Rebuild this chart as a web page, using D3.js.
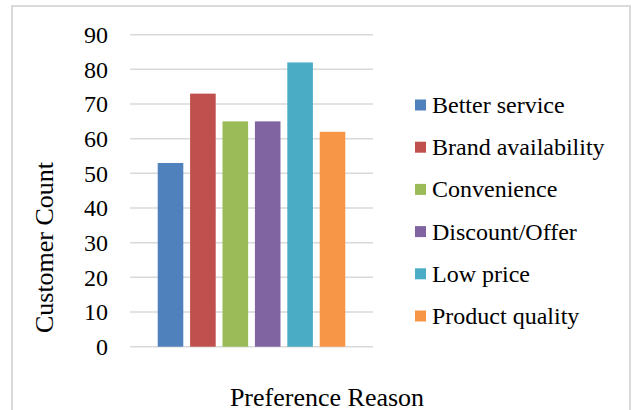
<!DOCTYPE html>
<html>
<head>
<meta charset="utf-8">
<script src="https://cdn.jsdelivr.net/npm/d3@7"></script>
<style>
  html, body { margin: 0; padding: 0; background: #fff; }
  svg { display: block; }
  text { font-family: "Liberation Serif", "Times New Roman", serif; fill: #000; }
</style>
</head>
<body>
<svg id="chart" width="633" height="410"></svg>
<script>
// Preference reasons and customer counts
const reasons = ["Better service", "Brand availability", "Convenience", "Discount/Offer", "Low price", "Product quality"];
const counts = [53, 73, 65, 65, 82, 62];
const colors = ["#4F81BD", "#C0504D", "#9BBB59", "#8064A2", "#4BACC6", "#F79646"];
const yTicks = [0, 10, 20, 30, 40, 50, 60, 70, 80, 90];

const svg = d3.select("#chart");

// Chart frame
svg.append("rect")
  .attr("x", 12).attr("y", 6)
  .attr("width", 618).attr("height", 420)
  .attr("fill", "#fff")
  .attr("stroke", "#d9d9d9")
  .attr("stroke-width", 2);

const plot = { left: 130, right: 373, top: 34.7, bottom: 346.7 };

const y = d3.scaleLinear().domain([0, 90]).range([plot.bottom, plot.top]);
const x = d3.scaleBand().domain(reasons)
  .range([plot.left, plot.right])
  .paddingInner(0.21)
  .paddingOuter(0.855);

// Gridlines
svg.append("g")
  .selectAll("line")
  .data(yTicks)
  .join("line")
  .attr("x1", plot.left).attr("x2", plot.right)
  .attr("y1", d => y(d)).attr("y2", d => y(d))
  .attr("stroke", "#d9d9d9")
  .attr("stroke-width", 1.5);

// Y axis labels
const yAxis = d3.axisLeft(y).tickValues(yTicks).tickSize(0).tickPadding(0);
const yg = svg.append("g")
  .attr("transform", "translate(108,0)")
  .call(yAxis);
yg.select(".domain").remove();
yg.selectAll("text")
  .attr("font-size", 24)
  .attr("font-family", "'Liberation Serif', 'Times New Roman', serif")
  .attr("fill", "#000")
  .attr("dy", "0.33em");

// Bars
svg.append("g")
  .selectAll("rect")
  .data(reasons)
  .join("rect")
  .attr("x", d => x(d))
  .attr("width", x.bandwidth())
  .attr("y", (d, i) => y(counts[i]))
  .attr("height", (d, i) => y(0) - y(counts[i]))
  .attr("fill", (d, i) => colors[i]);

// Axis titles
svg.append("text")
  .attr("transform", "translate(53,247.5) rotate(-90)")
  .attr("text-anchor", "middle")
  .attr("font-size", 26)
  .text("Customer Count");

svg.append("text")
  .attr("x", 327)
  .attr("y", 406)
  .attr("text-anchor", "middle")
  .attr("font-size", 26)
  .text("Preference Reason");

// Legend
const legend = svg.append("g")
  .selectAll("g")
  .data(reasons)
  .join("g")
  .attr("transform", (d, i) => `translate(415,${105 + i * 42.2})`);

legend.append("rect")
  .attr("x", 0).attr("y", -5.5)
  .attr("width", 11).attr("height", 11)
  .attr("fill", (d, i) => colors[i]);

legend.append("text")
  .attr("x", 17)
  .attr("y", 8)
  .attr("font-size", 24)
  .text(d => d);
</script>
</body>
</html>
